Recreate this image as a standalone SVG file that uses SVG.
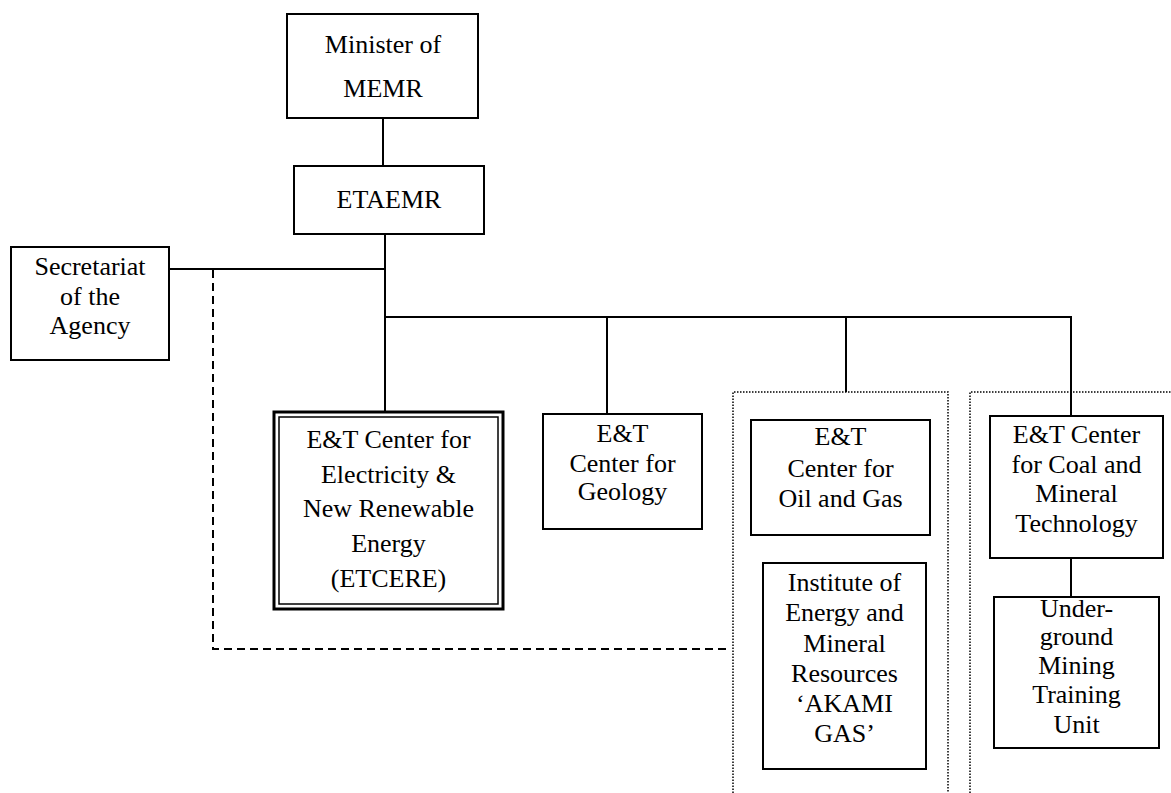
<svg xmlns="http://www.w3.org/2000/svg" width="1171" height="793" viewBox="0 0 1171 793">
  <style>
    .box { fill: #fff; stroke: #000; stroke-width: 2; }
    .line { fill: none; stroke: #000; stroke-width: 2; }
    .dash { fill: none; stroke: #000; stroke-width: 2; stroke-dasharray: 8 5; }
    .dot { fill: none; stroke: #000; stroke-width: 1.5; stroke-dasharray: 1.5 1.5; }
    .lbl { font-size: 26px; fill: #000; text-anchor: middle; }
  </style>
  <rect width="1171" height="793" fill="#fff"/>

  <!-- dotted groupings -->
  <g id="groups">
    <path class="dot" d="M733 793 V392 H948 V793"/>
    <path class="dot" d="M970 793 V392 H1171"/>
  </g>

  <!-- connectors -->
  <g id="connectors">
    <line class="line" x1="383" y1="118" x2="383" y2="166"/>
    <line class="line" x1="385" y1="234" x2="385" y2="412"/>
    <line class="line" x1="169" y1="269" x2="385" y2="269"/>
    <line class="line" x1="384" y1="317" x2="1072" y2="317"/>
    <line class="line" x1="607" y1="317" x2="607" y2="414"/>
    <line class="line" x1="846" y1="317" x2="846" y2="392"/>
    <line class="line" x1="1071" y1="317" x2="1071" y2="416"/>
    <line class="line" x1="1071" y1="558" x2="1071" y2="597"/>
    <path class="dash" d="M213 270 V649 H728"/>
  </g>

  <g class="lbl" font-family="'Liberation Serif', 'Times New Roman', Tinos, 'DejaVu Serif', serif">
  <g id="minister">
    <rect class="box" x="287" y="14" width="191" height="104"/>
    <text x="383" y="53">Minister of</text>
    <text x="383" y="97">MEMR</text>
  </g>

  <g id="etaemr">
    <rect class="box" x="294" y="166" width="190" height="68"/>
    <text x="389" y="208">ETAEMR</text>
  </g>

  <g id="secretariat">
    <rect class="box" x="11" y="247" width="158" height="113"/>
    <text x="90" y="275">Secretariat</text>
    <text x="90" y="305">of the</text>
    <text x="90" y="334">Agency</text>
  </g>

  <g id="etcere">
    <rect x="274" y="412" width="229" height="197" fill="#fff" stroke="#000" stroke-width="3"/>
    <rect x="279" y="417" width="219" height="187" fill="none" stroke="#000" stroke-width="1.5"/>
    <text x="388.5" y="448">E&amp;T Center for</text>
    <text x="388.5" y="483">Electricity &amp;</text>
    <text x="388.5" y="517">New Renewable</text>
    <text x="388.5" y="552">Energy</text>
    <text x="388.5" y="587">(ETCERE)</text>
  </g>

  <g id="geology">
    <rect class="box" x="543" y="414" width="159" height="115"/>
    <text x="622.5" y="442">E&amp;T</text>
    <text x="622.5" y="472">Center for</text>
    <text x="622.5" y="500">Geology</text>
  </g>

  <g id="oil-gas">
    <rect class="box" x="751" y="420" width="179" height="115"/>
    <text x="840.5" y="445">E&amp;T</text>
    <text x="840.5" y="477">Center for</text>
    <text x="840.5" y="507">Oil and Gas</text>
  </g>

  <g id="akami-gas">
    <rect class="box" x="763" y="563" width="163" height="206"/>
    <text x="844.5" y="591">Institute of</text>
    <text x="844.5" y="621">Energy and</text>
    <text x="844.5" y="652">Mineral</text>
    <text x="844.5" y="682">Resources</text>
    <text x="844.5" y="712">‘AKAMI</text>
    <text x="844.5" y="742">GAS’</text>
  </g>

  <g id="coal-mineral">
    <rect class="box" x="990" y="416" width="173" height="142"/>
    <text x="1076.5" y="443">E&amp;T Center</text>
    <text x="1076.5" y="473">for Coal and</text>
    <text x="1076.5" y="502">Mineral</text>
    <text x="1076.5" y="532">Technology</text>
  </g>

  <g id="underground">
    <rect class="box" x="994" y="597" width="165" height="151"/>
    <text x="1076.5" y="617">Under-</text>
    <text x="1076.5" y="645">ground</text>
    <text x="1076.5" y="674">Mining</text>
    <text x="1076.5" y="703">Training</text>
    <text x="1076.5" y="733">Unit</text>
  </g>
  </g>
</svg>
